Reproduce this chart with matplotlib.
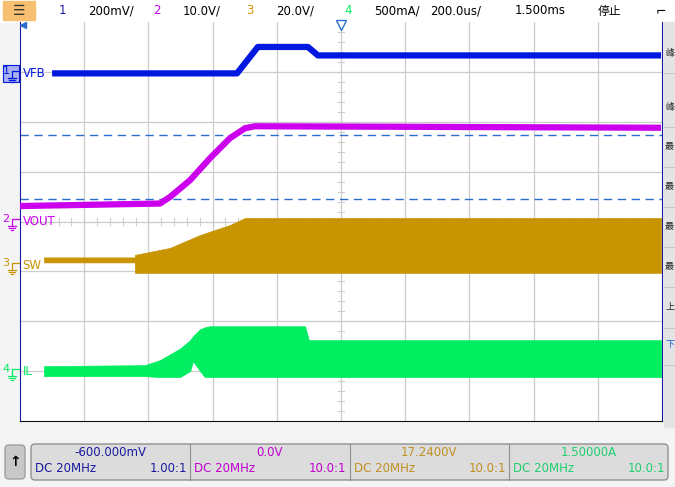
import matplotlib.pyplot as plt
from matplotlib.patches import FancyBboxPatch, Rectangle
import numpy as np

plt.rcParams['font.family'] = ['DejaVu Sans', 'Noto Sans CJK SC']

W, H = 675, 487

# time axis in us (200 us/div, 10 div), level in divisions (8 div)
vfb_t = [100, 676, 741, 897, 928, 1997]
vfb_y = [6.97, 6.97, 7.50, 7.50, 7.33, 7.33]

vout_t = [0, 436, 467, 530, 592, 654, 701, 732, 1997]
vout_y = [4.31, 4.36, 4.49, 4.83, 5.27, 5.67, 5.87, 5.91, 5.88]

sw_t = [75, 358, 358, 467, 561, 654, 701, 1997]
sw_top = [3.28, 3.28, 3.33, 3.47, 3.73, 3.93, 4.07, 4.07]
sw_bot = [3.18, 3.18, 2.97, 2.97, 2.97, 2.97, 2.97, 2.97]

il_t = [75, 389, 436, 498, 530, 539, 561, 576, 592, 888, 900, 1997]
il_top = [1.10, 1.12, 1.22, 1.45, 1.62, 1.70, 1.84, 1.88, 1.90, 1.90, 1.62, 1.62]
il_bot = [0.90, 0.90, 0.88, 0.88, 1.00, 1.20, 1.00, 0.88, 0.88, 0.88, 0.88, 0.88]

cursor_y = [5.74, 4.46]

ch_names = ['VFB', 'VOUT', 'SW', 'IL']
ch_level = [6.97, 4.0, 3.12, 1.0]
ch_colors = ['#0018e0', '#cc00ee', '#c89400', '#00ee60']
header = [('1', '200mV/'), ('2', '10.0V/'), ('3', '20.0V/'), ('4', '500mA/')]
footer_top = ['-600.000mV', '0.0V', '17.2400V', '1.50000A']
footer_ratio = ['1.00:1', '10.0:1', '10.0:1', '10.0:1']
side_labels = ['峰', '峰', '最', '最', '最', '最', '上', '下']
side_ys = [53, 107, 147, 187, 227, 267, 308, 345]
txt_colors = ['#1a1aa0', '#c000d0', '#c09020', '#20d070']


def rect(x0, y0, x1, y1):
    return [x0 / W, 1 - y1 / H, (x1 - x0) / W, (y1 - y0) / H]


fig = plt.figure(figsize=(6.75, 4.87), dpi=100)
fig.patch.set_facecolor('#f4f4f4')
bg = fig.add_axes([0, 0, 1, 1])
bg.set_xlim(0, W)
bg.set_ylim(H, 0)
bg.axis('off')

# header bar
bg.add_patch(Rectangle((0, 0), W, 22, color='white'))
bg.add_patch(Rectangle((3, 1), 32, 19, color='#f6c070'))
bg.text(19, 11, '☰', ha='center', va='center', fontsize=10, color='#333')
hx = [62, 88, 157, 183, 250, 276, 348, 374]
for i, (n, v) in enumerate(header):
    bg.text(hx[2 * i], 11, n, color=ch_colors[i] if i != 0 else '#1a1aa0',
            fontsize=8.5, va='center', ha='center')
    bg.text(hx[2 * i + 1], 11, v, fontsize=8.5, va='center')
bg.text(430, 11, '200.0us/', fontsize=8.5, va='center')
bg.text(515, 11, '1.500ms', fontsize=8.5, va='center')
bg.text(598, 11, '停止', fontsize=8.5, va='center', family=['Noto Sans CJK SC'])
bg.text(656, 11, '⌐', fontsize=9, va='center')

# side panel
bg.add_patch(Rectangle((664, 22), 14, 405, color='#e4e4e4'))
for s, y in zip(side_labels, side_ys):
    bg.text(665, y, s, fontsize=6.5, va='center', family=['Noto Sans CJK SC'],
            color='#1a5fd0' if s == '下' else '#222')
    bg.plot([664, 675], [y + 20, y + 20], color='#c8c8c8', lw=0.8)

# footer
bg.add_patch(FancyBboxPatch((5, 445), 20, 34, boxstyle='round,pad=0,rounding_size=4',
                            fc='#c8c8c8', ec='#a0a0a0'))
bg.text(15, 462, '↑', ha='center', va='center', fontsize=10, weight='bold')
bg.add_patch(FancyBboxPatch((31, 444), 637, 36, boxstyle='round,pad=0,rounding_size=4',
                            fc='#dcdcdc', ec='#909090'))
cw = 637 / 4
for i in range(4):
    x0 = 31 + i * cw
    if i:
        bg.plot([x0, x0], [444, 480], color='#909090', lw=0.8)
    bg.text(x0 + cw / 2, 452, footer_top[i], ha='center', va='center', fontsize=8.5, color=txt_colors[i])
    bg.text(x0 + 4, 469, 'DC 20MHz', va='center', fontsize=8.5, color=txt_colors[i])
    bg.text(x0 + cw - 3, 469, footer_ratio[i], ha='right', va='center', fontsize=8.5, color=txt_colors[i])

# scope screen
ax = fig.add_axes(rect(20, 22, 662, 421))
ax.set_facecolor('white')
ax.set_xlim(0, 2000)
ax.set_ylim(0, 8)
ax.set_xticks([])
ax.set_yticks([])
for x in np.arange(200, 2000, 200):
    ax.axvline(x, color='#cccccc', lw=0.9, zorder=0)
for y in range(1, 8):
    ax.axhline(y, color='#cccccc', lw=0.9, zorder=0)
for x in np.arange(40, 2000, 40):
    ax.plot([x, x], [3.92, 4.08], color='#cccccc', lw=0.8, zorder=0)
for y in np.arange(0.2, 8, 0.2):
    ax.plot([990, 1010], [y, y], color='#cccccc', lw=0.8, zorder=0)
for s in ax.spines.values():
    s.set_color('#111')
ax.spines['left'].set_color('#1a1aa0')
ax.spines['right'].set_color('#1a1aa0')
ax.spines['top'].set_visible(False)

for y in cursor_y:
    ax.axhline(y, color='#2a6fd0', lw=1, ls=(0, (6, 4)), zorder=1)

ax.plot(vfb_t, vfb_y, color=ch_colors[0], lw=4.5, solid_capstyle='butt', zorder=3)
ax.plot(vout_t, vout_y, color=ch_colors[1], lw=4.5, solid_capstyle='butt', zorder=3)
ax.fill_between(sw_t, sw_bot, sw_top, color=ch_colors[2], lw=0.5, zorder=3)
ax.fill_between(il_t, il_bot, il_top, color=ch_colors[3], lw=0.5, zorder=3)

ax.plot([1000], [7.93], marker='v', ms=7, mfc='white', mec='#2a6fd0', clip_on=False, zorder=5)
ax.plot([8], [7.93], marker='<', ms=5, color='#2a6fd0', clip_on=False, zorder=5)

for name, lvl, c in zip(ch_names, ch_level, ch_colors):
    ax.text(8, lvl, name, color=c, fontsize=8.5, va='center', zorder=6)
# channel number + ground symbol markers
for i, (lvl, c) in enumerate(zip(ch_level, ch_colors)):
    y = 421 - lvl * 49.9
    if i == 0:
        bg.add_patch(Rectangle((3, y - 8), 16, 17, fc='#a8b0f0', ec=c, lw=0.8))
    bg.text(6, y - 2, str(i + 1), color=c, fontsize=8, ha='center', va='center')
    bg.plot([12, 12, 19], [y + 5, y - 2, y - 2], color=c, lw=0.9)
    for k, hw in enumerate([4, 2.7, 1.4]):
        bg.plot([12 - hw, 12 + hw], [y + 5 + 2 * k, y + 5 + 2 * k], color=c, lw=0.9)

fig.savefig('out.png', dpi=100)
